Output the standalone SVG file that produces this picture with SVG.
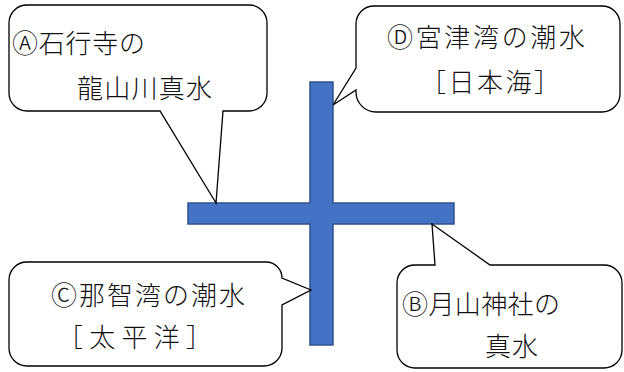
<svg xmlns="http://www.w3.org/2000/svg" width="624" height="372" viewBox="0 0 624 372">
<style>
.bubble{fill:#fff;stroke:#000;stroke-width:1.3;stroke-linejoin:miter}
.t{font-family:"Noto Sans CJK JP","Liberation Serif",sans-serif;font-size:26px;fill:#111;font-weight:300}
.cross{fill:#4472C4;stroke:#2F528F;stroke-width:1.5}
</style>
<g id="cross">
<path class="cross" d="M310,82 H333 V203 H454 V224 H333 V345 H310 V224 H188 V203 H310 Z"/>
</g>
<g id="connectors"></g>
<g id="calloutA">
<path class="bubble" d="M27,5 H249 A18 18 0 0 1 267,23 V93 A18 18 0 0 1 249,111 H223 L216,203 L160,111 H27 A18 18 0 0 1 9,93 V23 A18 18 0 0 1 27,5 Z"/>
<text class="t" x="12" y="53" textLength="133">Ⓐ石行寺の</text>
<text class="t" x="77" y="98" textLength="135">龍山川真水</text>
</g>
<g id="calloutD">
<path class="bubble" d="M374,6 H602 A18 18 0 0 1 620,24 V94 A18 18 0 0 1 602,112 H376 A20 20 0 0 1 356,92 V90 L333,105 L356,68 V24 A18 18 0 0 1 374,6 Z"/>
<text class="t" x="387" y="47" textLength="198">Ⓓ宮津湾の潮水</text>
<text class="t" x="420" y="92" textLength="140">［日本海］</text>
</g>
<g id="calloutC">
<path class="bubble" d="M27,262 H266 A16 16 0 0 1 282,278 L311,290 L282,305 V348 A18 18 0 0 1 264,366 H27 A18 18 0 0 1 9,348 V280 A18 18 0 0 1 27,262 Z"/>
<text class="t" x="51" y="305" textLength="194">Ⓒ那智湾の潮水</text>
<text class="t" x="57" y="347" textLength="155">［太平洋］</text>
</g>
<g id="calloutB">
<path class="bubble" d="M415,265 H435 L432,224 L490,265 H604 A18 18 0 0 1 622,283 V350 A18 18 0 0 1 604,368 H415 A18 18 0 0 1 397,350 V283 A18 18 0 0 1 415,265 Z"/>
<text class="t" x="402" y="314" textLength="158">Ⓑ月山神社の</text>
<text class="t" x="485" y="356" textLength="53">真水</text>
</g>
</svg>
